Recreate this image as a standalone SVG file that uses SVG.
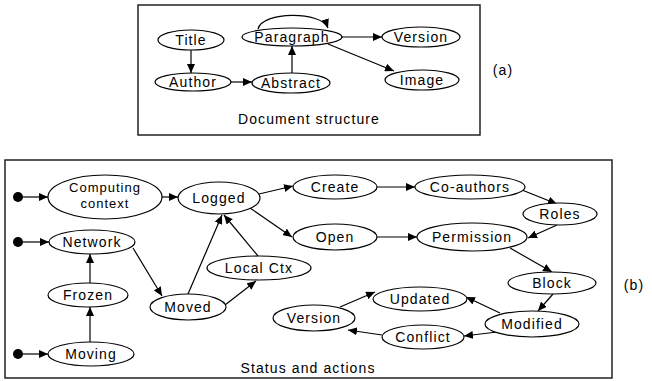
<svg xmlns="http://www.w3.org/2000/svg" width="652" height="381" viewBox="0 0 652 381">
<style>
.frame{fill:none;stroke:#222;stroke-width:1.5}
.n ellipse{fill:#fff;stroke:#000;stroke-width:1.2}
text{font-family:"Liberation Sans",Arial,sans-serif;font-size:14px;letter-spacing:1.1px;fill:#000;text-anchor:middle}
.small{font-size:13px;letter-spacing:1px}
.e path{fill:none;stroke:#000;stroke-width:1.2;marker-end:url(#ah)}
.dot{fill:#000}
</style>
<defs>
<marker id="ah" markerUnits="userSpaceOnUse" markerWidth="10" markerHeight="8" refX="9" refY="4" orient="auto">
<path d="M0,0 L9,4 L0,8 Z" fill="#000"/>
</marker>
</defs>
<rect width="652" height="381" fill="#fff"/>
<rect class="frame" x="138" y="5" width="342" height="130"/>
<rect class="frame" x="5" y="160" width="607" height="218"/>
<text x="503" y="75">(a)</text>
<text x="634" y="290">(b)</text>
<text x="309" y="124">Document structure</text>
<text x="308" y="373">Status and actions</text>

<g class="e" id="connectors">
<path d="M191,50 L191,73"/>
<path d="M231,82 L252,82"/>
<path d="M292,73 L292,46"/>
<path d="M342,37 L382,37"/>
<path d="M328,44 L394,71"/>
<path d="M258,29 C262,11 322,11 328,28"/>
<path d="M23,197 L48,197"/>
<path d="M23,242 L49,242"/>
<path d="M23,354 L48,354"/>
<path d="M162,197 L178,197"/>
<path d="M259,194 L293,186"/>
<path d="M250,208 L292,237"/>
<path d="M377,187 L415,187"/>
<path d="M522,190 L557,204"/>
<path d="M557,225 L528,238"/>
<path d="M377,237 L417,237"/>
<path d="M510,248 L552,272"/>
<path d="M553,294 L538,311"/>
<path d="M500,313 L466,297"/>
<path d="M497,332 L464,336"/>
<path d="M382,335 L348,330"/>
<path d="M340,307 L375,292"/>
<path d="M133,248 L162,296"/>
<path d="M90,283 L90,254"/>
<path d="M90,342 L90,307"/>
<path d="M188,294 L222,215"/>
<path d="M258,256 L224,215"/>
<path d="M225,305 L256,281"/>
</g>
<g id="starts">
<circle class="dot" cx="18" cy="197" r="5"/>
<circle class="dot" cx="18" cy="242" r="5"/>
<circle class="dot" cx="18" cy="354" r="5"/>
</g>

<g class="n" id="title"><ellipse cx="191" cy="40" rx="33" ry="10"/><text x="191" y="45">Title</text></g>
<g class="n" id="author"><ellipse cx="193" cy="82" rx="38" ry="9"/><text x="193" y="87">Author</text></g>
<g class="n" id="abstract"><ellipse cx="291" cy="83" rx="39" ry="10"/><text x="291" y="88">Abstract</text></g>
<g class="n" id="paragraph"><ellipse cx="292" cy="37" rx="50" ry="9"/><text x="292" y="42">Paragraph</text></g>
<g class="n" id="version-a"><ellipse cx="421" cy="37" rx="39" ry="10"/><text x="421" y="42">Version</text></g>
<g class="n" id="image"><ellipse cx="422" cy="80" rx="37" ry="10"/><text x="422" y="85">Image</text></g>

<g class="n" id="computing"><ellipse cx="105" cy="197" rx="57" ry="22"/><text class="small" x="105" y="192">Computing</text><text class="small" x="105" y="208">context</text></g>
<g class="n" id="logged"><ellipse cx="219" cy="198" rx="41" ry="16"/><text x="219" y="203">Logged</text></g>
<g class="n" id="network"><ellipse cx="92" cy="242" rx="43" ry="12"/><text x="92" y="247">Network</text></g>
<g class="n" id="frozen"><ellipse cx="88" cy="295" rx="40" ry="12"/><text x="88" y="300">Frozen</text></g>
<g class="n" id="moving"><ellipse cx="91" cy="354" rx="43" ry="12"/><text x="91" y="359">Moving</text></g>
<g class="n" id="moved"><ellipse cx="188" cy="307" rx="38" ry="13"/><text x="188" y="312">Moved</text></g>
<g class="n" id="localctx"><ellipse cx="259" cy="268" rx="52" ry="12"/><text x="259" y="273">Local Ctx</text></g>
<g class="n" id="create"><ellipse cx="335" cy="187" rx="42" ry="12"/><text x="335" y="192">Create</text></g>
<g class="n" id="open"><ellipse cx="335" cy="237" rx="42" ry="13"/><text x="335" y="242">Open</text></g>
<g class="n" id="coauthors"><ellipse cx="470" cy="187" rx="55" ry="12"/><text x="470" y="192">Co-authors</text></g>
<g class="n" id="roles"><ellipse cx="560" cy="214" rx="37" ry="11"/><text x="560" y="219">Roles</text></g>
<g class="n" id="permission"><ellipse cx="472" cy="237" rx="55" ry="14"/><text x="472" y="242">Permission</text></g>
<g class="n" id="block"><ellipse cx="552" cy="283" rx="44" ry="11"/><text x="552" y="288">Block</text></g>
<g class="n" id="updated"><ellipse cx="420" cy="299" rx="47" ry="12"/><text x="420" y="304">Updated</text></g>
<g class="n" id="modified"><ellipse cx="532" cy="324" rx="47" ry="13"/><text x="532" y="329">Modified</text></g>
<g class="n" id="conflict"><ellipse cx="423" cy="337" rx="41" ry="12"/><text x="423" y="342">Conflict</text></g>
<g class="n" id="version-b"><ellipse cx="314" cy="318" rx="41" ry="13"/><text x="314" y="323">Version</text></g>
</svg>
